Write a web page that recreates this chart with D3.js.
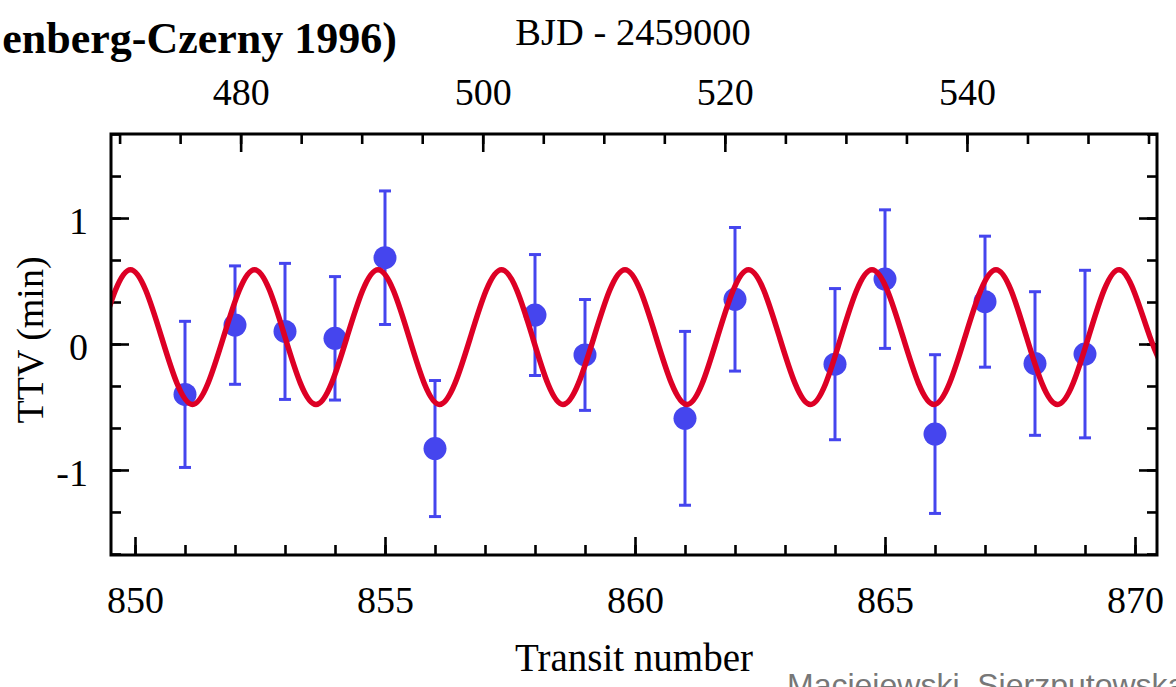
<!DOCTYPE html>
<html>
<head>
<meta charset="utf-8">
<script src="https://cdn.jsdelivr.net/npm/d3@7"></script>
<style>
  html, body { margin: 0; padding: 0; background: #fff; overflow: hidden; }
  svg { display: block; }
  text { font-family: "Liberation Serif", "Times New Roman", serif; fill: #000; }
</style>
</head>
<body>
<svg id="chart" width="1176" height="687"></svg>
<script>
// ---- data ----
const transits = [851, 852, 853, 854, 855, 856, 858, 859, 861, 862, 864, 865, 866, 867, 868, 869];
const ttv      = [-0.40, 0.15, 0.10, 0.045, 0.685, -0.83, 0.23, -0.087, -0.59, 0.355, -0.16, 0.515, -0.715, 0.336, -0.155, -0.08];
const ttvErr   = [0.58, 0.47, 0.54, 0.49, 0.53, 0.54, 0.48, 0.44, 0.69, 0.57, 0.60, 0.55, 0.63, 0.52, 0.57, 0.665];

// model curve: extrema and mid-level crossings
const modelN = [849.30, 849.91, 850.53, 851.15, 851.77, 852.39, 853.00, 853.62, 854.24, 854.86,
                855.48, 856.09, 856.71, 857.33, 857.95, 858.56, 859.18, 859.80, 860.42, 861.04,
                861.65, 862.27, 862.89, 863.51, 864.12, 864.74, 865.36, 865.98, 866.60, 867.22,
                867.83, 868.45, 869.07, 869.69, 870.30, 870.92];
const modelV = [0.055, 0.59, 0.055, -0.48, 0.055, 0.59, 0.055, -0.48, 0.055, 0.59,
                0.055, -0.48, 0.055, 0.59, 0.055, -0.48, 0.055, 0.59, 0.055, -0.48,
                0.055, 0.59, 0.055, -0.48, 0.055, 0.59, 0.055, -0.48, 0.055, 0.59,
                0.055, -0.48, 0.055, 0.59, 0.055, -0.48];

const bottomMajor = [850, 855, 860, 865, 870];
const bottomMinor = [850,851,852,853,854,855,856,857,858,859,860,861,862,863,864,865,866,867,868,869,870];
const topMajor = [480, 500, 520, 540];
const topMinor = [470,475,480,485,490,495,500,505,510,515,520,525,530,535,540,545,550,555];
const yMajor = [-1, 0, 1];
const yMinor = [-1.6667,-1.3333,-1,-0.6667,-0.3333,0,0.3333,0.6667,1,1.3333,1.6667];

const titleText = "enberg-Czerny 1996)";
const topAxisTitle = "BJD - 2459000";
const xAxisTitle = "Transit number";
const yAxisTitle = "TTV (min)";
const creditText = "Maciejewski, Sierzputowska";

// ---- layout ----
const L = 111, R = 1157, T = 134, B = 555;
const svg = d3.select("#chart");

const x = d3.scaleLinear().domain([849.52, 870.44]).range([L, R]);
const xTop = d3.scaleLinear().domain([469.29, 555.70]).range([L, R]);
const y = d3.scaleLinear().domain([-1.675, 1.667]).range([B, T]);

const fmt = d => String(d);
const majLen = 18, minLen = 10, tickW = 2.6;

function styleAxis(g) {
  g.select(".domain").remove();
  g.selectAll(".tick line").attr("stroke", "#000").attr("stroke-width", tickW);
}

// minor ticks
svg.append("g").attr("transform", `translate(0,${B})`)
  .call(d3.axisBottom(x).tickValues(bottomMinor).tickSize(-minLen).tickFormat(""))
  .call(styleAxis);
svg.append("g").attr("transform", `translate(0,${T})`)
  .call(d3.axisTop(xTop).tickValues(topMinor.filter(v => xTop(v) > L + 2 && xTop(v) < R - 2)).tickSize(-minLen).tickFormat(""))
  .call(styleAxis);
svg.append("g").attr("transform", `translate(${L},0)`)
  .call(d3.axisLeft(y).tickValues(yMinor).tickSize(-minLen).tickFormat(""))
  .call(styleAxis);
svg.append("g").attr("transform", `translate(${R},0)`)
  .call(d3.axisRight(y).tickValues(yMinor).tickSize(-minLen).tickFormat(""))
  .call(styleAxis);

// major ticks + labels
const gb = svg.append("g").attr("transform", `translate(0,${B})`)
  .call(d3.axisBottom(x).tickValues(bottomMajor).tickSize(-majLen).tickFormat(fmt))
  .call(styleAxis);
gb.selectAll("text").attr("y", 58).attr("dy", null)
  .attr("font-size", 38).attr("font-family", "Liberation Serif").attr("fill", "#000");

const gt = svg.append("g").attr("transform", `translate(0,${T})`)
  .call(d3.axisTop(xTop).tickValues(topMajor).tickSize(-majLen).tickFormat(fmt))
  .call(styleAxis);
gt.selectAll("text").attr("y", -29).attr("dy", null)
  .attr("font-size", 38).attr("font-family", "Liberation Serif").attr("fill", "#000");

const gl = svg.append("g").attr("transform", `translate(${L},0)`)
  .call(d3.axisLeft(y).tickValues(yMajor).tickSize(-majLen).tickFormat(fmt))
  .call(styleAxis);
gl.selectAll("text").attr("x", -23).attr("dy", "0.42em")
  .attr("font-size", 38).attr("font-family", "Liberation Serif").attr("fill", "#000");

svg.append("g").attr("transform", `translate(${R},0)`)
  .call(d3.axisRight(y).tickValues(yMajor).tickSize(-majLen).tickFormat(""))
  .call(styleAxis);

// clip
svg.append("clipPath").attr("id", "plotclip")
  .append("rect").attr("x", L).attr("y", T).attr("width", R - L).attr("height", B - T);

const blue = "#4545ee";
const plot = svg.append("g").attr("clip-path", "url(#plotclip)");

// error bars
const pts = transits.map((t, i) => ({ t, v: ttv[i], e: ttvErr[i] }));
const eb = plot.append("g").attr("stroke", blue).attr("stroke-width", 3).attr("fill", "none");
eb.selectAll("line.v").data(pts).join("line").attr("class", "v")
  .attr("x1", d => x(d.t)).attr("x2", d => x(d.t))
  .attr("y1", d => y(d.v + d.e)).attr("y2", d => y(d.v - d.e));
eb.selectAll("line.ct").data(pts).join("line").attr("class", "ct")
  .attr("x1", d => x(d.t) - 6).attr("x2", d => x(d.t) + 6)
  .attr("y1", d => y(d.v + d.e)).attr("y2", d => y(d.v + d.e));
eb.selectAll("line.cb").data(pts).join("line").attr("class", "cb")
  .attr("x1", d => x(d.t) - 6).attr("x2", d => x(d.t) + 6)
  .attr("y1", d => y(d.v - d.e)).attr("y2", d => y(d.v - d.e));

// points
plot.append("g").selectAll("circle").data(pts).join("circle")
  .attr("cx", d => x(d.t)).attr("cy", d => y(d.v)).attr("r", 11.5)
  .attr("fill", blue);

// model curve
const model = modelN.map((n, i) => [n, modelV[i]]);
plot.append("path").datum(model)
  .attr("fill", "none").attr("stroke", "#dd0025").attr("stroke-width", 5.5)
  .attr("stroke-linejoin", "round")
  .attr("d", d3.line().x(d => x(d[0])).y(d => y(d[1])).curve(d3.curveNatural));

// frame
svg.append("rect").attr("x", L).attr("y", T).attr("width", R - L).attr("height", B - T)
  .attr("fill", "none").attr("stroke", "#000").attr("stroke-width", 3);

// texts
svg.append("text").attr("x", 397).attr("y", 53).attr("text-anchor", "end")
  .attr("font-size", 44).attr("font-weight", "bold").text(titleText);
svg.append("text").attr("x", 633).attr("y", 45).attr("text-anchor", "middle")
  .attr("font-size", 38.5).text(topAxisTitle);
svg.append("text").attr("x", 634).attr("y", 671).attr("text-anchor", "middle")
  .attr("font-size", 39).text(xAxisTitle);
svg.append("text").attr("transform", "translate(43,340) rotate(-90)").attr("text-anchor", "middle")
  .attr("font-size", 38).text(yAxisTitle);
svg.append("text").attr("x", 787).attr("y", 696)
  .style("font-family", "'Liberation Sans', Arial, sans-serif")
  .attr("font-size", 32).style("fill", "#777").text(creditText);
</script>
</body>
</html>
